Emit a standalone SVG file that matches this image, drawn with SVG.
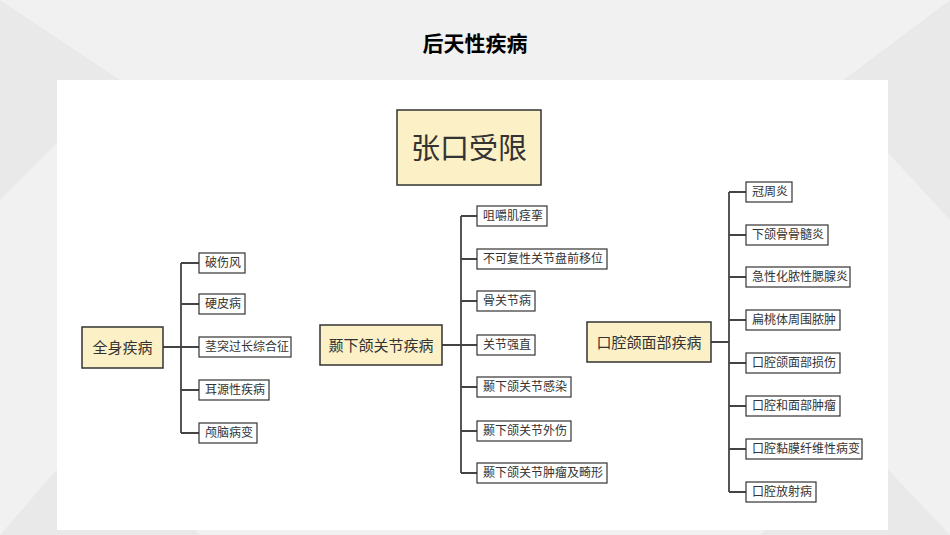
<svg xmlns="http://www.w3.org/2000/svg" width="950" height="535" viewBox="0 0 950 535">
<style>
text{font-family:"Noto Sans CJK SC","Liberation Sans",sans-serif;fill:#333}
text.title{fill:#000}
.c{fill:#fff;stroke:#333;stroke-width:1.2}
.m{fill:#fcf0c6;stroke:#333;stroke-width:1.5}
.ct{font-size:12px}
.mt{font-size:15px;text-anchor:middle}
#conn path{fill:none;stroke:#444;stroke-width:1.8}
</style>
<rect width="950" height="535" fill="#f1f1f1"/>
<path d="M0 0L120 80L0 200Z M950 0L830 90L950 220Z M0 535L100 420L200 535Z M950 535L860 440L760 535Z" fill="#e9e9e9"/>
<rect x="57" y="80" width="831" height="450" fill="#fff"/>
<text class="title" x="475" y="51" font-size="21" font-weight="bold" text-anchor="middle">后天性疾病</text>
<g id="root"><rect class="m" x="397" y="110" width="144" height="75"/><text x="469" y="159" font-size="29" text-anchor="middle">张口受限</text></g>
<g id="conn">
<path d="M163 347H181M181 263V433M181 263H199M181 304H199M181 347H199M181 390H199M181 433H199"/>
<path d="M442 345H461M461 216V473M461 216H477M461 259H477M461 301H477M461 345H477M461 387H477M461 431H477M461 473H477"/>
<path d="M711 342H729M729 192V492M729 192H746M729 235H746M729 277H746M729 320H746M729 363H746M729 406H746M729 449H746M729 492H746"/>
</g>
<g id="n1"><rect class="m" x="82" y="327" width="81" height="41"/><text class="mt" x="122.5" y="353">全身疾病</text></g>
<g id="n2"><rect class="m" x="320" y="325" width="122" height="40"/><text class="mt" x="381" y="351">颞下颌关节疾病</text></g>
<g id="n3"><rect class="m" x="587" y="322" width="124" height="40"/><text class="mt" x="649" y="348">口腔颌面部疾病</text></g>
<g id="c1a"><rect class="c" x="199" y="253" width="46" height="20"/><text class="ct" x="205" y="267">破伤风</text></g>
<g id="c1b"><rect class="c" x="199" y="294" width="46" height="20"/><text class="ct" x="205" y="308">硬皮病</text></g>
<g id="c1c"><rect class="c" x="199" y="337" width="92" height="20"/><text class="ct" x="205" y="351">茎突过长综合征</text></g>
<g id="c1d"><rect class="c" x="199" y="380" width="70" height="20"/><text class="ct" x="205" y="394">耳源性疾病</text></g>
<g id="c1e"><rect class="c" x="199" y="423" width="58" height="20"/><text class="ct" x="205" y="437">颅脑病变</text></g>
<g id="c2a"><rect class="c" x="477" y="206" width="70" height="20"/><text class="ct" x="483" y="220">咀嚼肌痉挛</text></g>
<g id="c2b"><rect class="c" x="477" y="249" width="130" height="20"/><text class="ct" x="483" y="263">不可复性关节盘前移位</text></g>
<g id="c2c"><rect class="c" x="477" y="291" width="58" height="20"/><text class="ct" x="483" y="305">骨关节病</text></g>
<g id="c2d"><rect class="c" x="477" y="335" width="58" height="20"/><text class="ct" x="483" y="349">关节强直</text></g>
<g id="c2e"><rect class="c" x="477" y="377" width="94" height="20"/><text class="ct" x="483" y="391">颞下颌关节感染</text></g>
<g id="c2f"><rect class="c" x="477" y="421" width="94" height="20"/><text class="ct" x="483" y="435">颞下颌关节外伤</text></g>
<g id="c2g"><rect class="c" x="477" y="463" width="130" height="20"/><text class="ct" x="483" y="477">颞下颌关节肿瘤及畸形</text></g>
<g id="c3a"><rect class="c" x="746" y="182" width="46" height="20"/><text class="ct" x="752" y="196">冠周炎</text></g>
<g id="c3b"><rect class="c" x="746" y="225" width="82" height="20"/><text class="ct" x="752" y="239">下颌骨骨髓炎</text></g>
<g id="c3c"><rect class="c" x="746" y="267" width="104" height="20"/><text class="ct" x="752" y="281">急性化脓性腮腺炎</text></g>
<g id="c3d"><rect class="c" x="746" y="310" width="94" height="20"/><text class="ct" x="752" y="324">扁桃体周围脓肿</text></g>
<g id="c3e"><rect class="c" x="746" y="353" width="94" height="20"/><text class="ct" x="752" y="367">口腔颌面部损伤</text></g>
<g id="c3f"><rect class="c" x="746" y="396" width="94" height="20"/><text class="ct" x="752" y="410">口腔和面部肿瘤</text></g>
<g id="c3g"><rect class="c" x="746" y="439" width="116" height="20"/><text class="ct" x="752" y="453">口腔黏膜纤维性病变</text></g>
<g id="c3h"><rect class="c" x="746" y="482" width="70" height="20"/><text class="ct" x="752" y="496">口腔放射病</text></g>
</svg>
